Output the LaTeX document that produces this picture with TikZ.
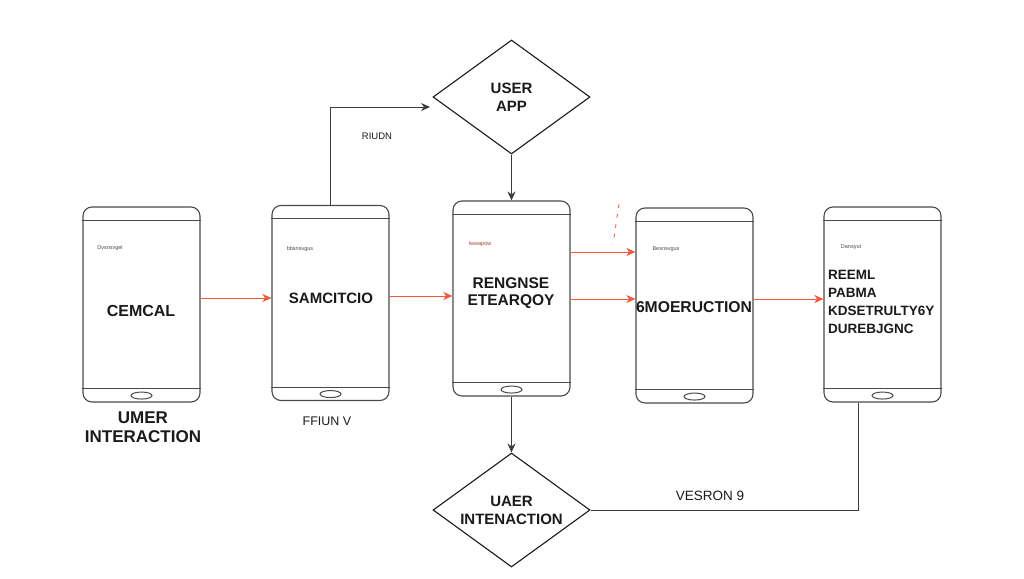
\documentclass[tikz,border=0pt]{standalone}
\usepackage{fontspec}
\setmainfont{Liberation Sans}
\usetikzlibrary{shapes.geometric,arrows.meta}
\definecolor{edgec}{HTML}{4A4A4A}
\definecolor{redc}{HTML}{EE5B3F}
\definecolor{inkc}{HTML}{1A1A1A}
\begin{document}
\begin{tikzpicture}[x=1pt,y=-1pt,
  phone/.style={draw=edgec,line width=1.1pt,rounded corners=9pt,minimum width=117pt,minimum height=195pt,inner sep=0pt},
  bar/.style={draw=edgec,line width=1pt},
  btn/.style={draw=edgec,line width=1pt,ellipse,minimum width=21pt,minimum height=7pt,inner sep=0pt},
  lbl/.style={font=\bfseries\fontsize{15.5}{18}\selectfont,text=inkc,align=center,inner sep=0pt},
  tinytxt/.style={font=\fontsize{5.5}{6}\selectfont,text=edgec,inner sep=0pt},
  captxt/.style={font=\fontsize{12.5}{15}\selectfont,text=inkc,inner sep=0pt},
  dia/.style={draw=inkc,line width=1.1pt,diamond,minimum width=157pt,minimum height=114pt,aspect=1.377,inner sep=0pt},
  redarrow/.style={draw=redc,line width=1pt,-{Stealth[length=9pt,width=8pt,inset=2.5pt]}},
  conn/.style={draw=inkc!85,line width=1pt},
  connarrow/.style={conn,-{Stealth[length=9pt,width=8pt,inset=3pt]}}]
\fill[white] (0,0) rectangle (1024,578);
\useasboundingbox (0,0) rectangle (1024,578);
% phones
\foreach \n/\cx/\cy in {p1/141.5/304.5,p2/330.5/303,p3/511.5/298.5,p4/694.5/305.5,p5/882.5/304.5}{
  \node[phone] (\n) at (\cx,\cy) {};
  \draw[bar] ([yshift=-14pt]\n.north west) -- ([yshift=-14pt]\n.north east);
  \draw[bar] ([yshift=14pt]\n.south west) -- ([yshift=14pt]\n.south east);
  \node[btn] (\n b) at ([yshift=7pt]\n.south) {};
}
% tiny texts
\node[tinytxt] (s1) at (110,248) {Dvsnsvgel};
\node[tinytxt] (s2) at (300,249) {bbsnsvgus};
\node[tinytxt,text=redc!70!black] (s3) at (480,244) {Iwwapow};
\node[tinytxt] (s4) at (666,249) {Besnsvgus};
\node[tinytxt] (s5) at (851,247) {Dansyut};
% main labels
\node[lbl,font=\bfseries\fontsize{16}{18}\selectfont] (t1) at (141,311) {CEMCAL};
\node[lbl,font=\bfseries\fontsize{15}{18}\selectfont] (t2) at (331,298) {SAMCITCIO};
\node[lbl,font=\bfseries\fontsize{15.5}{17.5}\selectfont] (t3) at (511,293) {RENGNSE\\ETEARQOY};
\node[lbl,font=\bfseries\fontsize{15.7}{18}\selectfont] (t4) at (694,307) {6MOERUCTION};
\node[lbl,font=\bfseries\fontsize{13.5}{18}\selectfont,align=left,anchor=west] (t5) at (828,302) {REEML\\PABMA\\KDSETRULTY6Y\\DUREBJGNC};
% captions
\node[lbl,font=\bfseries\fontsize{17}{19}\selectfont] (c1) at (143,427.5) {UMER\\INTERACTION};
\node[captxt] (c2) at (327,421) {FFIUN V};
% diamonds
\node[dia] (d1) at (511.5,97) {};
\node[lbl,font=\bfseries\fontsize{15}{18}\selectfont] (d1t) at (d1) {USER\\APP};
\node[dia] (d2) at (511.5,510) {};
\node[lbl,font=\bfseries\fontsize{15}{18}\selectfont] (d2t) at (d2) {UAER\\INTENACTION};
% red connectors
\draw[redarrow] (p1.east |- 0,298) -- (p2.west |- 0,298);
\draw[redarrow] (p2.east |- 0,296) -- (p3.west |- 0,296);
\draw[redarrow] (p3.east |- 0,252) -- (p4.west |- 0,252);
\draw[redarrow] (p3.east |- 0,299) -- (p4.west |- 0,299);
\draw[redarrow] (p4.east |- 0,299) -- (p5.west |- 0,299);
\draw[redc,line width=0.8pt,dash pattern=on 4pt off 6pt] (619,204) -- (613,244);
% black connectors
\coordinate (a1) at (430,107);
\draw[connarrow] (p2.north) -- (p2.north |- a1) -- (a1);
\node[captxt,font=\fontsize{9.5}{11}\selectfont] (r1) at (377,136) {RIUDN};
\draw[connarrow] (d1.south) -- (p3.north);
\draw[connarrow] (p3.south) -- (d2.north);
\coordinate (k1) at (858,510);
\draw[conn] (d2.east) -- (k1) -- (k1 |- p5.south);
\node[captxt,font=\fontsize{13.5}{15}\selectfont] (v1) at (710,496) {VESRON 9};
\end{tikzpicture}
\end{document}
